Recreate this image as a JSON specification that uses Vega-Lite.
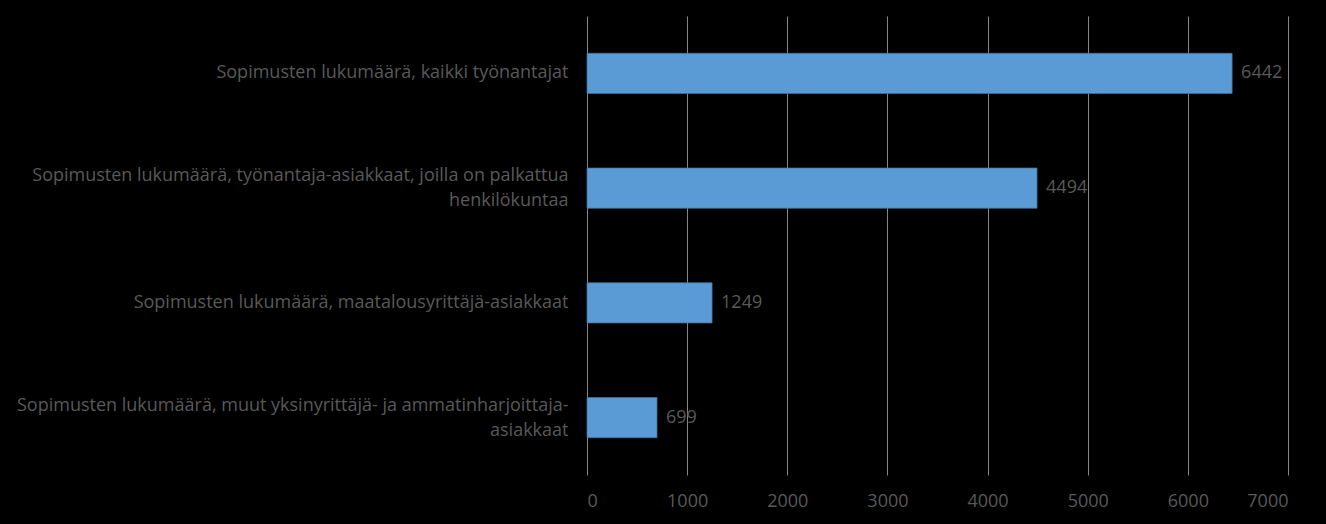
{
  "$schema": "https://vega.github.io/schema/vega-lite/v6.json",
  "autosize": {"type": "none"},
  "width": 701,
  "height": 459,
  "padding": {"left": 587, "top": 16, "right": 38, "bottom": 49},
  "background": "#000000",
  "config": {
    "view": {"stroke": null},
    "font": "Open Sans",
    "axis": {"labelFont": "Open Sans", "labelColor": "#595959", "labelFontSize": 18}
  },
  "data": {
    "values": [
      {"kategoria": "Sopimusten lukumäärä, kaikki työnantajat", "arvo": 6442},
      {"kategoria": "Sopimusten lukumäärä, työnantaja-asiakkaat, joilla on palkattua henkilökuntaa", "arvo": 4494},
      {"kategoria": "Sopimusten lukumäärä, maatalousyrittäjä-asiakkaat", "arvo": 1249},
      {"kategoria": "Sopimusten lukumäärä, muut yksinyrittäjä- ja ammatinharjoittaja-asiakkaat", "arvo": 699}
    ]
  },
  "encoding": {
    "y": {
      "field": "kategoria",
      "type": "nominal",
      "sort": null,
      "scale": {"paddingInner": 0.65, "paddingOuter": 0.325},
      "axis": {
        "title": null,
        "domain": false,
        "ticks": false,
        "labelPadding": 19,
        "labelLimit": 700,
        "labelLineHeight": 25,
        "labelOffset": {"condition": {"test": "indexof(datum.value, 'henkilökuntaa') >= 0 || indexof(datum.value, 'ammatinharjoittaja') >= 0", "value": -12}, "value": 0},
        "labelExpr": "datum.value == 'Sopimusten lukumäärä, työnantaja-asiakkaat, joilla on palkattua henkilökuntaa' ? ['Sopimusten lukumäärä, työnantaja-asiakkaat, joilla on palkattua', 'henkilökuntaa'] : datum.value == 'Sopimusten lukumäärä, muut yksinyrittäjä- ja ammatinharjoittaja-asiakkaat' ? ['Sopimusten lukumäärä, muut yksinyrittäjä- ja ammatinharjoittaja-', 'asiakkaat'] : datum.label"
      }
    },
    "x": {
      "field": "arvo",
      "type": "quantitative",
      "scale": {"domain": [0, 7000], "nice": false},
      "axis": {
        "title": null,
        "domain": false,
        "ticks": false,
        "format": "d",
        "values": [0, 1000, 2000, 3000, 4000, 5000, 6000, 7000],
        "labelPadding": 17,
        "grid": true,
        "gridColor": "#868686",
        "gridWidth": 1
      }
    }
  },
  "layer": [
    {"mark": {"type": "bar", "color": "#5B9BD5", "stroke": "#41719C", "strokeWidth": 0.75}},
    {
      "mark": {"type": "text", "align": "left", "dx": 9, "color": "#595959", "font": "Open Sans", "fontSize": 18},
      "encoding": {"text": {"field": "arvo", "type": "quantitative", "format": "d"}}
    }
  ]
}
